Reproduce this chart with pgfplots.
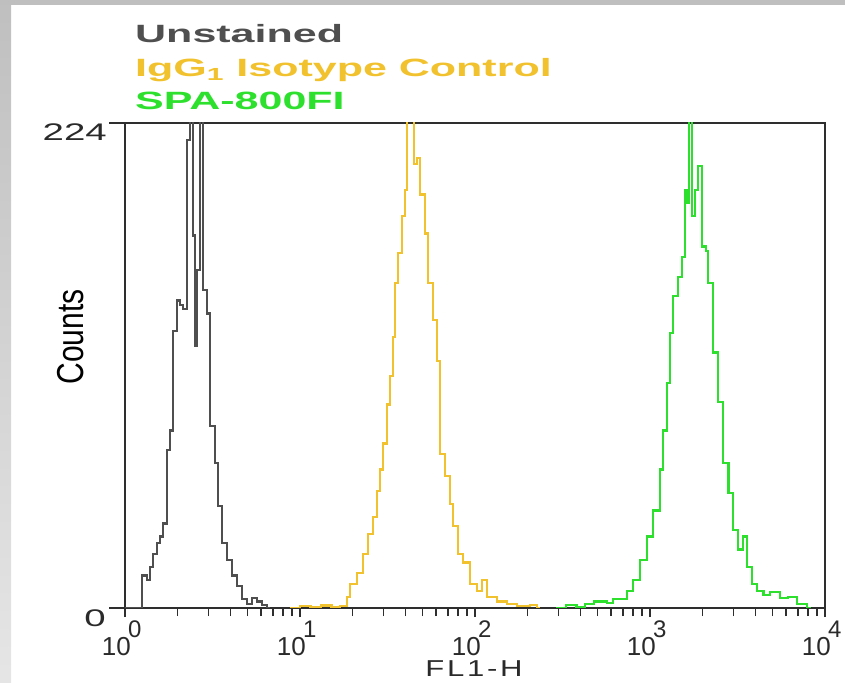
\documentclass[border=0pt]{standalone}
\usepackage{pgfplots}
\pgfplotsset{compat=1.18}
\usepackage{fontspec}
\setmainfont{Liberation Sans}
\definecolor{axgray}{HTML}{2E2E2E}
\definecolor{txtgray}{HTML}{2A2A2A}
\definecolor{unst}{HTML}{4F4F4F}
\definecolor{iso}{HTML}{F2C12E}
\definecolor{spa}{HTML}{2EE02E}
\begin{document}
\begin{tikzpicture}[x=1pt,y=1pt]
\useasboundingbox (0,0) rectangle (845,682);
\shade[top color=black!25, bottom color=black!10] (0,0) rectangle (11,682);
\fill[black!25] (0,677) rectangle (845,682);
% legend text
\begin{scope}[every node/.style={anchor=base west, inner sep=0pt, font=\bfseries\fontsize{25}{25}\selectfont}]
\node[text=unst] at (135,639) {\scalebox{1.72}[1]{Unstained}};
\node[text=iso] at (135,605) {\scalebox{1.72}[1]{IgG\textsubscript{1} Isotype Control}};
\node[text=spa] at (135,572) {\scalebox{1.72}[1]{SPA-800FI}};
\end{scope}
\node[rotate=90, text=black, font=\fontsize{30}{30}\selectfont] at (71,345) {\scalebox{1}[1.25]{Counts}};
\node[text=txtgray, font=\fontsize{23}{23}\selectfont] at (474,13) {\scalebox{1.35}[1]{F\kern2pt L\kern2pt 1\kern2pt -\kern2pt H}};
\begin{axis}[
  at={(125pt,74pt)}, anchor=south west,
  scale only axis, width=700pt, height=485pt,
  xmin=0, xmax=4, ymin=0, ymax=224,
  clip=true,
  axis line style={axgray, line width=2.4pt},
  tick style={axgray, line width=1.6pt},
  tick align=outside,
  xtick pos=bottom, ytick pos=left,
  major tick length=9pt, minor tick length=8pt,
  xtick={0,1,2,3,4},
  xticklabels={},
  minor xtick={0.301,0.477,0.602,0.699,0.778,0.845,0.903,0.954,
    1.301,1.477,1.602,1.699,1.778,1.845,1.903,1.954,
    2.301,2.477,2.602,2.699,2.778,2.845,2.903,2.954,
    3.301,3.477,3.602,3.699,3.778,3.845,3.903,3.954},
  ytick=\empty,
]
\addplot[const plot, unst, line width=2.2pt] coordinates {
 (0.000,0) (0.020,0) (0.095,15) (0.124,13) (0.143,19) (0.162,25) (0.181,30)
 (0.200,33) (0.219,39) (0.238,73) (0.257,82) (0.276,128) (0.295,142)
 (0.314,140) (0.333,138) (0.352,216) (0.371,230) (0.390,172) (0.400,121)
 (0.413,156) (0.429,230) (0.444,147) (0.467,136) (0.486,84) (0.514,67)
 (0.533,47) (0.552,30) (0.581,22) (0.610,15) (0.638,10) (0.667,4)
 (0.695,2) (0.724,4.5) (0.752,3) (0.781,1.4) (0.810,0) (0.830,0)
};
\addplot[const plot, iso, line width=2.2pt] coordinates {
 (0.940,0) (1.000,0.8) (1.060,0.4) (1.120,1.2) (1.180,0.6) (1.230,0.8)
 (1.267,5) (1.286,11) (1.324,16) (1.362,25) (1.390,34) (1.419,42)
 (1.438,54) (1.457,64) (1.476,76) (1.495,94) (1.514,107) (1.533,125)
 (1.543,150) (1.562,164) (1.581,181) (1.600,193) (1.613,230) (1.638,230)
 (1.651,205) (1.670,208) (1.686,191) (1.714,173) (1.733,150) (1.762,133)
 (1.781,114) (1.800,71) (1.829,61) (1.857,48) (1.876,38) (1.905,25)
 (1.933,21) (1.971,11) (2.010,8) (2.038,13) (2.067,5) (2.124,3)
 (2.181,2) (2.238,0.8) (2.314,1.4) (2.352,0) (2.370,0)
};
\addplot[const plot, spa, line width=2.2pt] coordinates {
 (2.460,0) (2.520,1.4) (2.580,0.6) (2.630,2) (2.680,3) (2.752,2.2)
 (2.790,4) (2.829,4) (2.867,8) (2.905,13) (2.943,22) (2.981,33)
 (3.019,45) (3.057,64) (3.076,82) (3.095,104) (3.114,127) (3.133,144)
 (3.162,153) (3.181,162) (3.200,193) (3.213,187) (3.225,230) (3.238,181)
 (3.257,193) (3.276,204) (3.295,167) (3.320,165) (3.333,150) (3.362,118)
 (3.390,95) (3.419,67) (3.448,53) (3.476,36) (3.505,27) (3.533,33)
 (3.552,19) (3.581,11) (3.610,8) (3.648,6) (3.686,7.5) (3.743,4.5)
 (3.790,5) (3.838,2) (3.895,0) (3.920,0)
};
\end{axis}
% x tick labels: "10" with a big raised exponent
\foreach \n/\e in {0/0,1/1,2/2,3/3,4/4} {
  \node[anchor=base east, inner sep=0pt, text=txtgray, font=\fontsize{26}{26}\selectfont]
    at (131+175*\n,27) {10};
  \node[anchor=base west, inner sep=0pt, text=txtgray, font=\fontsize{24}{24}\selectfont]
    at (128+175*\n,45) {\e};
}
% y ticks and their labels
\draw[axgray, line width=1.6pt] (109,74) -- (125,74);
\draw[axgray, line width=1.6pt] (109,559) -- (125,559);
\node[anchor=east, inner sep=0pt, text=txtgray, font=\fontsize{24}{24}\selectfont] at (106,64) {\scalebox{1.6}[1]{0}};
\node[anchor=east, inner sep=0pt, text=txtgray, font=\fontsize{24}{24}\selectfont] at (107,550) {\scalebox{1.6}[1]{224}};
\end{tikzpicture}
\end{document}
